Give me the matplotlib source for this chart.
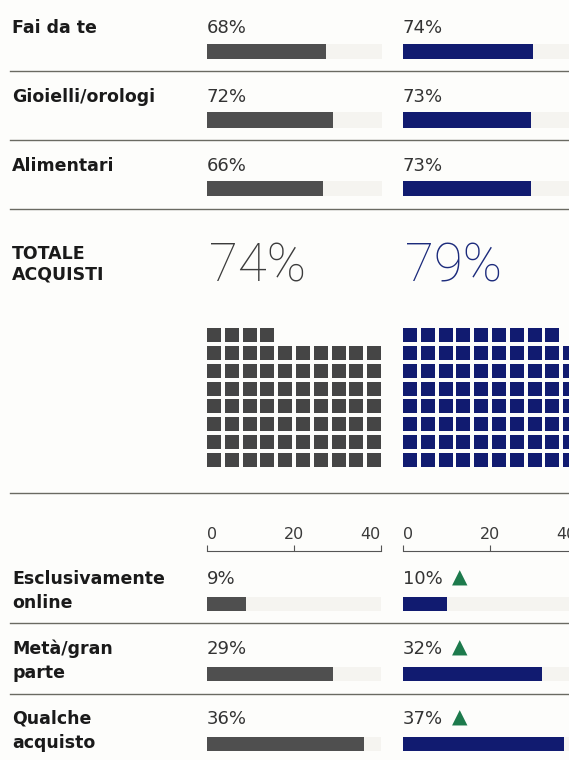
import matplotlib
matplotlib.use("Agg")
import matplotlib.pyplot as plt
from matplotlib.lines import Line2D
from matplotlib.transforms import blended_transform_factory

# ── data ──────────────────────────────────────────────────────────────────
CATEGORIE = ["Fai da te", "Gioielli/orologi", "Alimentari"]
CAT_PREV = [68, 72, 66]
CAT_CURR = [74, 73, 73]

TOT_LABEL = ["TOTALE", "ACQUISTI"]
TOT_PREV = 74
TOT_CURR = 79

QUOTE = [["Esclusivamente", "online"], ["Metà/gran", "parte"], ["Qualche", "acquisto"]]
QUOTE_PREV = [9, 29, 36]
QUOTE_CURR = [10, 32, 37]
QUOTE_UP = [True, True, True]
SCALE_TICKS = [0, 20, 40]

# ── style ─────────────────────────────────────────────────────────────────
W, H = 569, 760
PT = 72 / 100          # pixel -> point at dpi 100
plt.rcParams["font.family"] = "DejaVu Sans"

INK = "#1a1a1a"
NUM = "#333333"
GREY = "#4f4f4f"
GREY_WAFFLE = "#454545"
BLUE = "#111b70"
BLUE_TEXT = "#1c2b7c"
TRACK = "#f5f4f0"
GREEN = "#1d7a4c"
RULE = "#6a6a62"
BG = "#fdfdfb"

COLS = [(207, GREY, GREY_WAFFLE, "#3c3c3c"), (403, BLUE, BLUE, BLUE_TEXT)]
LABEL_X = 12 / W


def rect(x0, y0, x1, y1):
    return [x0 / W, 1 - y1 / H, (x1 - x0) / W, (y1 - y0) / H]


def rule(fig, y):
    fig.add_artist(Line2D([10 / W, 1.0], [1 - y / H] * 2, color=RULE, lw=1.0,
                          transform=fig.transFigure))


fig = plt.figure(figsize=(W / 100, H / 100), dpi=100, facecolor=BG)

# ── top: categories ───────────────────────────────────────────────────────
for c, vals in enumerate([CAT_PREV, CAT_CURR]):
    x0, bar_col, _, _ = COLS[c]
    ax = fig.add_axes(rect(x0, 17, x0 + 175, 223))
    ax.set_xlim(0, 100)
    ax.set_ylim(2.5, -0.5)
    ax.axis("off")
    rows = list(range(len(vals)))
    ax.barh(rows, [100] * len(vals), height=0.22, color=TRACK)
    ax.barh(rows, vals, height=0.22, color=bar_col)
    for i, v in enumerate(vals):
        ax.annotate(f"{v}%", (0, i), xytext=(0, 18 * PT), textcoords="offset points",
                    va="baseline", ha="left", fontsize=13, color=NUM)
    if c == 0:
        tr = blended_transform_factory(fig.transFigure, ax.transData)
        for i, lab in enumerate(CATEGORIE):
            ax.annotate(lab, (LABEL_X, i), xycoords=tr, xytext=(0, 18 * PT),
                        textcoords="offset points", va="baseline", ha="left",
                        fontsize=12.5, fontweight="bold", color=INK)

for y in [71, 140, 209]:
    rule(fig, y)

# ── middle: waffle totals ─────────────────────────────────────────────────
PX, PY = 17.8, 17.86
for c, total in enumerate([TOT_PREV, TOT_CURR]):
    x0, _, waf_col, txt_col = COLS[c]
    ax = fig.add_axes(rect(x0, 328, x0 + 10 * PX, 328 + 8 * PY))
    ax.set_xlim(0, 10)
    ax.set_ylim(0, 8)
    ax.axis("off")
    k = list(range(total))
    cols = [j % 10 for j in k]
    rws = [j // 10 for j in k]
    ax.bar(cols, 14 / PY, width=14 / PX, bottom=[r + 1 - 14 / PY for r in rws],
           align="edge", color=waf_col, linewidth=0)
    ax.annotate(f"{total}%", (0, 8), xytext=(2 * PT, 47 * PT), textcoords="offset points",
                va="baseline", ha="left", fontsize=38, fontfamily="Roboto",
                fontweight="light", color=txt_col, annotation_clip=False)
    if c == 0:
        tr = blended_transform_factory(fig.transFigure, ax.transData)
        for j, line in enumerate(TOT_LABEL):
            ax.annotate(line, (LABEL_X, 8), xycoords=tr, xytext=(0, (69 - 20 * j) * PT),
                        textcoords="offset points", va="baseline", ha="left",
                        fontsize=12.5, fontweight="bold", color=INK)

rule(fig, 493)

# ── bottom: share of online purchases ─────────────────────────────────────
for c, vals in enumerate([QUOTE_PREV, QUOTE_CURR]):
    x0, bar_col, _, _ = COLS[c]
    ax = fig.add_axes(rect(x0, 569, x0 + 174, 779))
    ax.set_facecolor("none")
    ax.set_xlim(0, SCALE_TICKS[-1])
    ax.set_ylim(2.5, -0.5)
    rows = list(range(len(vals)))
    ax.barh(rows, [SCALE_TICKS[-1]] * len(vals), height=0.214, color=TRACK)
    ax.barh(rows, vals, height=0.214, color=bar_col)
    for i, v in enumerate(vals):
        ax.annotate(f"{v}%", (0, i), xytext=(0, 20.5 * PT), textcoords="offset points",
                    va="baseline", ha="left", fontsize=13, color=NUM)
        if c == 1 and QUOTE_UP[i]:
            ax.annotate("▲", (0, i), xytext=(49 * PT, 20.5 * PT), textcoords="offset points",
                        va="baseline", ha="left", fontsize=14.5, color=GREEN)
    # scale
    for s in ["left", "right", "bottom"]:
        ax.spines[s].set_visible(False)
    ax.spines["top"].set_position(("outward", 18 * PT))
    ax.spines["top"].set_color("#555555")
    ax.spines["top"].set_linewidth(0.8)
    ax.set_yticks([])
    ax.set_xticks(SCALE_TICKS)
    ax.xaxis.set_ticks_position("top")
    ax.tick_params(axis="x", direction="out", length=6 * PT, width=0.8, color="#555555",
                   labeltop=True, labelbottom=False, labelsize=11.5, labelcolor="#3a3a3a",
                   pad=2.5)
    for t, ha in zip(ax.xaxis.get_major_ticks(), ["left", "center", "right"]):
        t.label2.set_horizontalalignment(ha)
    if c == 0:
        tr = blended_transform_factory(fig.transFigure, ax.transData)
        for i, lines in enumerate(QUOTE):
            for j, line in enumerate(lines):
                ax.annotate(line, (LABEL_X, i), xycoords=tr,
                            xytext=(0, (20.5 - 24.5 * j) * PT), textcoords="offset points",
                            va="baseline", ha="left", fontsize=12.5, fontweight="bold",
                            color=INK)

for y in [623, 694]:
    rule(fig, y)

fig.savefig("out.png", dpi=100, facecolor=BG)
